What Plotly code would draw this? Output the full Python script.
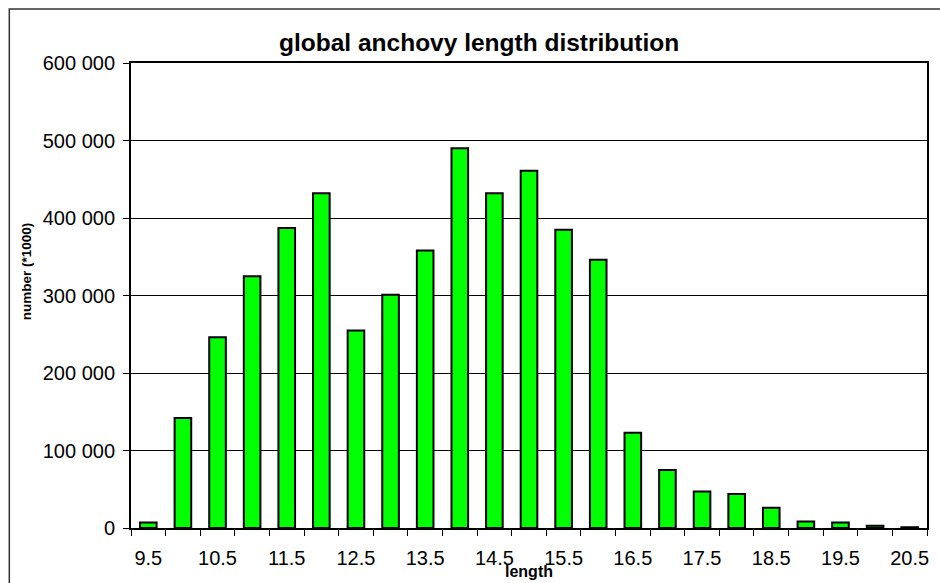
import plotly.graph_objects as go

# Length classes (cm) and abundance (number *1000)
lengths = [9.5, 10, 10.5, 11, 11.5, 12, 12.5, 13, 13.5, 14, 14.5, 15,
           15.5, 16, 16.5, 17, 17.5, 18, 18.5, 19, 19.5, 20, 20.5]
numbers = [7000, 142000, 246000, 325000, 387000, 432000, 255000, 301000,
           358000, 490000, 432000, 461000, 385000, 346000, 123000, 75000,
           47000, 44000, 26000, 8500, 7000, 3000, 1000]

label_ticks = [9.5, 10.5, 11.5, 12.5, 13.5, 14.5, 15.5, 16.5, 17.5, 18.5, 19.5, 20.5]
boundary_ticks = [v - 0.25 for v in lengths] + [lengths[-1] + 0.25]
y_ticks = [0, 100000, 200000, 300000, 400000, 500000, 600000]

FONT = "Liberation Sans, Arial, sans-serif"

fig = go.Figure(
    go.Bar(
        x=lengths,
        y=numbers,
        width=0.24,
        marker=dict(color="#00FF00", line=dict(color="#000000", width=2)),
    )
)

W, H = 940, 583
L, R, T, B = 131, 11, 63, 55
pw, ph = W - L - R, H - T - B


def px_x(px):
    return (px - L) / pw


def px_y(py):
    return (H - B - py) / ph


fig.update_layout(
    width=W,
    height=H,
    margin=dict(l=L, r=R, t=T, b=B),
    paper_bgcolor="white",
    plot_bgcolor="white",
    separators=". ",
    showlegend=False,
    font=dict(family=FONT, color="#000000"),
    xaxis=dict(
        range=[9.25, 20.75],
        tickmode="array",
        tickvals=label_ticks,
        ticktext=[f"{v:g}" for v in label_ticks],
        ticks="",
        ticklabelstandoff=11,
        tickfont=dict(size=20, family=FONT, color="#000000"),
        showgrid=False,
        showline=True,
        linecolor="#000000",
        linewidth=2,
        mirror=True,
        zeroline=False,
        minor=dict(
            tickmode="array",
            tickvals=boundary_ticks,
            ticks="outside",
            ticklen=6,
            tickcolor="#000000",
            tickwidth=1,
            showgrid=False,
        ),
    ),
    yaxis=dict(
        range=[0, 600000],
        tickmode="array",
        tickvals=y_ticks,
        tickformat=",d",
        ticks="outside",
        ticklen=6,
        tickcolor="#000000",
        tickwidth=1,
        ticklabelstandoff=4,
        tickfont=dict(size=20, family=FONT, color="#000000"),
        showgrid=True,
        gridcolor="#000000",
        gridwidth=1,
        showline=True,
        linecolor="#000000",
        linewidth=2,
        mirror=True,
        zeroline=False,
    ),
    shapes=[
        dict(
            type="rect",
            xref="paper",
            yref="paper",
            x0=px_x(9),
            x1=px_x(960),
            y0=px_y(600),
            y1=px_y(9),
            line=dict(color="#333333", width=1.5),
            fillcolor="rgba(0,0,0,0)",
            layer="below",
        )
    ],
    annotations=[
        dict(
            text="<b>global anchovy length distribution</b>",
            xref="paper",
            yref="paper",
            x=px_x(480),
            y=px_y(42),
            xanchor="center",
            yanchor="middle",
            showarrow=False,
            font=dict(size=24.5, family=FONT, color="#000000"),
        ),
        dict(
            text="<b>number (*1000)</b>",
            xref="paper",
            yref="paper",
            x=px_x(26),
            y=px_y(271),
            xanchor="center",
            yanchor="middle",
            textangle=-90,
            showarrow=False,
            font=dict(size=13.5, family=FONT, color="#000000"),
        ),
        dict(
            text="<b>length</b>",
            xref="paper",
            yref="paper",
            x=px_x(530),
            y=px_y(571),
            xanchor="center",
            yanchor="middle",
            showarrow=False,
            font=dict(size=16, family=FONT, color="#000000"),
        ),
    ],
)

fig.write_html("out.html")
